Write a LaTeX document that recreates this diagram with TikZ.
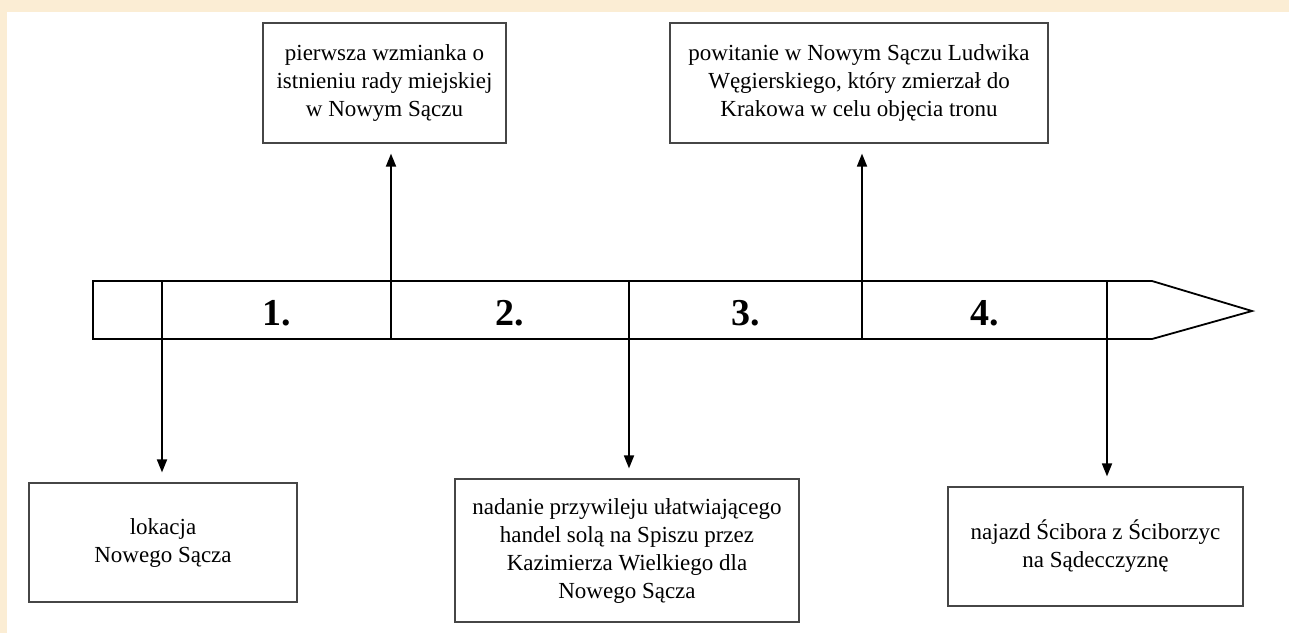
\documentclass[tikz,border=0pt]{standalone}
\usepackage{fontspec}
\setmainfont{Liberation Serif}
\usetikzlibrary{arrows.meta}
\definecolor{beige}{RGB}{251,237,212}
\definecolor{boxline}{RGB}{70,70,70}
\begin{document}
\begin{tikzpicture}[x=1pt,y=-1pt,
  evbox/.style={draw=boxline,line width=1.2pt,fill=white,align=center,inner sep=0pt,
    font=\fontsize{23}{28}\selectfont},
  numlabel/.style={font=\fontsize{38}{44}\selectfont\bfseries,inner sep=0pt},
  tl/.style={line width=1.8pt,line join=miter},
  conn/.style={line width=1.8pt,-{Triangle[length=13pt,width=10pt]},shorten >=10pt}]
\useasboundingbox (0,0) rectangle (1289,633);
\fill[beige] (0,0) rectangle (1289,633);
\fill[white] (7,12) rectangle (1289,633);
% timeline
\draw[tl] (93,281) -- (1152,281) -- (1252,311) -- (1152,339) -- (93,339) -- cycle;
% points on the timeline
\coordinate (p0) at (162,281);
\coordinate (p1) at (391,339);
\coordinate (p2) at (629,281);
\coordinate (p3) at (862,339);
\coordinate (p4) at (1107,281);
\draw[tl] (162,339) -- (p0);
\draw[tl] (391,281) -- (p1);
\draw[tl] (629,339) -- (p2);
\draw[tl] (862,281) -- (p3);
\draw[tl] (1107,339) -- (p4);
% numbers
\node[numlabel] (n1) at (276.5,313) {1.};
\node[numlabel] (n2) at (510,313) {2.};
\node[numlabel] (n3) at (745.5,313) {3.};
\node[numlabel] (n4) at (984.5,313) {4.};
% boxes
\node[evbox,minimum width=268pt,minimum height=119pt] (b0) at (163,542.5)
  {lokacja\\Nowego Sącza};
\node[evbox,minimum width=243pt,minimum height=120pt] (b1) at (384.5,83)
  {pierwsza wzmianka o\\istnieniu rady miejskiej\\w Nowym Sączu};
\node[evbox,minimum width=344pt,minimum height=143pt] (b2) at (627,550.5)
  {nadanie przywileju ułatwiającego\\handel solą na Spiszu przez\\Kazimierza Wielkiego dla\\Nowego Sącza};
\node[evbox,minimum width=378pt,minimum height=120pt] (b3) at (859,83)
  {powitanie w Nowym Sączu Ludwika\\Węgierskiego, który zmierzał do\\Krakowa w celu objęcia tronu};
\node[evbox,minimum width=295pt,minimum height=119pt] (b4) at (1095.5,546.5)
  {najazd Ścibora z Ściborzyc\\na Sądecczyznę};
% connectors
\draw[conn] (p0) -- (p0 |- b0.north);
\draw[conn] (p1) -- (p1 |- b1.south);
\draw[conn] (p2) -- (p2 |- b2.north);
\draw[conn] (p3) -- (p3 |- b3.south);
\draw[conn] (p4) -- (p4 |- b4.north);
\end{tikzpicture}
\end{document}
